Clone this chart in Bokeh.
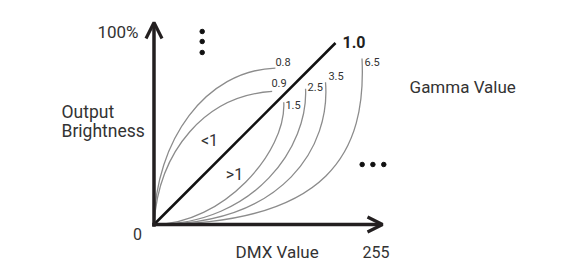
from bokeh.plotting import figure
from bokeh.models import Range1d, Arrow, OpenHead, ColumnDataSource
from bokeh.embed import file_html
from bokeh.resources import INLINE
from bokeh.core.properties import value

# ---- data (normalised: 1.0 = full scale of the linear gamma line) ----
gamma_labels = ["0.8", "0.9", "1.5", "2.5", "3.5", "6.5"]
end_x = [0.669, 0.651, 0.715, 0.835, 0.945, 1.146]
end_y = [0.862, 0.733, 0.674, 0.748, 0.784, 0.915]
ctrl1_x = [0.008, 0.025, 0.377, 0.559, 0.725, 0.973]
ctrl1_y = [0.463, 0.408, 0.0, 0.0, 0.0, 0.0]
ctrl2_x = [0.284, 0.284, 0.730, 0.851, 0.973, 1.171]
ctrl2_y = [0.849, 0.711, 0.397, 0.435, 0.435, 0.408]
label_x = [0.669, 0.647, 0.724, 0.846, 0.961, 1.160]
label_y = [0.898, 0.777, 0.658, 0.755, 0.818, 0.895]
linear_x = [0.0, 1.0]
linear_y = [0.0, 1.0]
axis_max_x = 1.259
axis_max_y = 1.113
tick_texts = ["0", "255", "100%"]

DARK = "#231f20"
GREY = "#8c8c8c"
TXT = "#333333"
FONT = "Roboto"

p = figure(width=581, height=264, output_backend="svg", toolbar_location=None,
           x_range=Range1d(-0.8457, 2.3554), y_range=Range1d(-0.2204, 1.2342),
           min_border=0, x_axis_location=None, y_axis_location=None)
p.grid.visible = False
p.outline_line_color = None
p.background_fill_color = "white"
p.border_fill_color = "white"

src = ColumnDataSource(dict(x0=[0.0] * len(end_x), y0=[0.0] * len(end_x),
                            x1=end_x, y1=end_y, cx0=ctrl1_x, cy0=ctrl1_y,
                            cx1=ctrl2_x, cy1=ctrl2_y))
p.bezier(x0="x0", y0="y0", x1="x1", y1="y1", cx0="cx0", cy0="cy0",
         cx1="cx1", cy1="cy1", source=src, line_color=GREY, line_width=1.3)

p.line(linear_x, linear_y, line_color="#111111", line_width=2.6)

# axes with arrow heads
p.add_layout(Arrow(end=OpenHead(size=16, line_width=3.2, line_color=DARK),
                   x_start=0, y_start=-0.012, x_end=0, y_end=axis_max_y,
                   line_width=3.5, line_color=DARK))
p.add_layout(Arrow(end=OpenHead(size=15, line_width=3.2, line_color=DARK),
                   x_start=-0.01, y_start=0, x_end=axis_max_x, y_end=0,
                   line_width=3.5, line_color=DARK))

# gamma labels
p.text(x=label_x, y=label_y, text=gamma_labels, text_font=value(FONT),
       text_font_size="11px", text_color=TXT, text_align="left",
       text_baseline="middle")

p.text(x=[1.0386], y=[1.0028], text=["1.0"], text_font=value(FONT),
       text_font_size="16px", text_font_style="bold", text_color=DARK,
       text_align="left", text_baseline="alphabetic")

# region labels
p.text(x=[0.306, 0.4435], y=[0.463, 0.2755], text=["<1", ">1"],
       text_font=value(FONT), text_font_size="16px", text_color=TXT,
       text_align="center", text_baseline="middle")

# axis texts
p.text(x=[-0.091], y=[-0.0496], text=[tick_texts[0]], text_font=value(FONT),
       text_font_size="16px", text_color=TXT, text_align="center",
       text_baseline="middle")
p.text(x=[1.149], y=[-0.154], text=[tick_texts[1]], text_font=value(FONT),
       text_font_size="16px", text_color=TXT, text_align="left",
       text_baseline="alphabetic")
p.text(x=[-0.0854], y=[1.063], text=[tick_texts[2]], text_font=value(FONT),
       text_font_size="17px", text_color=TXT, text_align="right",
       text_baseline="middle")
p.text(x=[0.449], y=[-0.149], text=["DMX Value"], text_font=value(FONT),
       text_font_size="17px", text_color=TXT, text_align="left",
       text_baseline="alphabetic")
p.text(x=[-0.5096, -0.5096], y=[0.622, 0.517], text=["Output", "Brightness"],
       text_font=value(FONT), text_font_size="17.5px", text_color=TXT,
       text_align="left", text_baseline="alphabetic")
p.text(x=[1.408], y=[0.760], text=["Gamma Value"], text_font=value(FONT),
       text_font_size="17px", text_color=TXT, text_align="left",
       text_baseline="alphabetic")

# ellipsis dots
p.scatter(x=[0.2656, 0.2656, 0.2656], y=[1.0634, 1.0083, 0.9477], size=4.5,
          color="#111111")
p.scatter(x=[1.147, 1.206, 1.266], y=[0.3306, 0.3306, 0.3306], size=4.5,
          color="#111111")

open("out.html", "w").write(file_html(p, INLINE))
